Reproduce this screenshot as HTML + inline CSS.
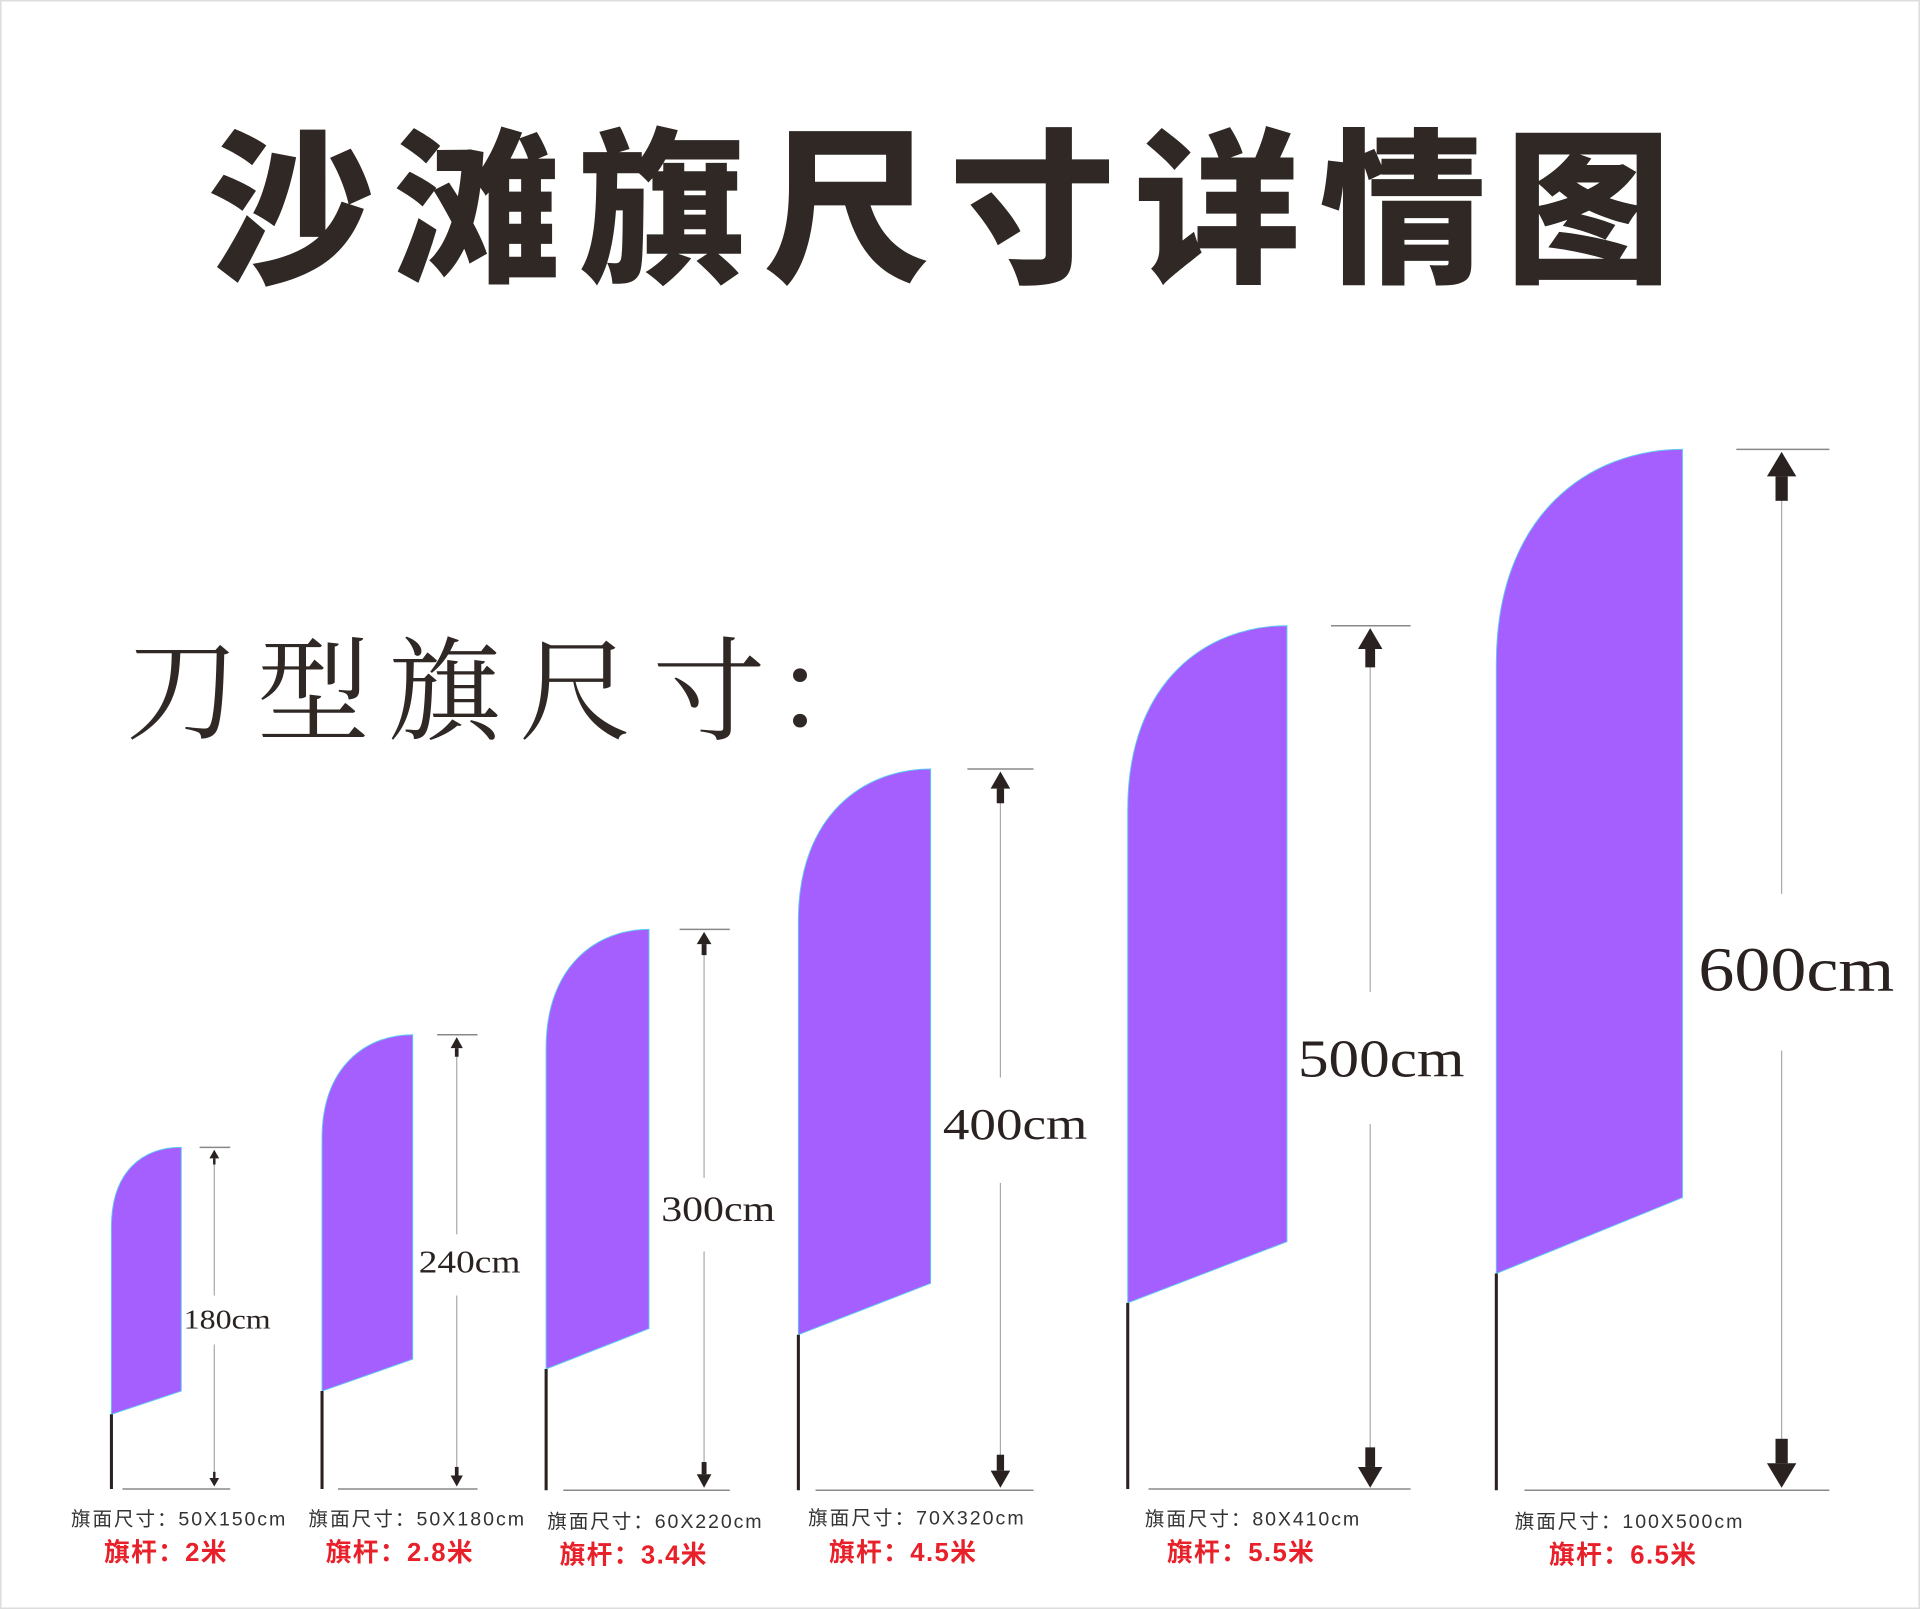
<!DOCTYPE html>
<html><head><meta charset="utf-8"><style>
html,body{margin:0;padding:0;background:#fff;}
svg{display:block;}
</style></head><body>
<svg width="1920" height="1609" viewBox="0 0 1568 1314" preserveAspectRatio="none" xmlns="http://www.w3.org/2000/svg">
<rect x="0" y="0" width="1568" height="1314" fill="#fff"/>
<rect x="0.5" y="0.5" width="1567" height="1313" fill="none" stroke="#ddd" stroke-width="1.5"/>
<text x="170" y="220" textLength="1195" lengthAdjust="spacing" font-family="'Noto Sans CJK SC','WenQuanYi Zen Hei',sans-serif" font-weight="900" font-size="136" fill="#2f2825">沙滩旗尺寸详情图</text>
<text x="103 210 317 424 533 632" y="597" font-family="'Noto Serif CJK SC','Liberation Serif',serif" font-size="92" fill="#2f2825">刀型旗尺寸：</text>
<g fill="#a45ffe" stroke="#5fc8f0" stroke-width="0.8">
<path d="M91,1155 L91,1002 C91,956 117,937 148,937 L148,1136 Z"/>
<path d="M263,1136 L263,930 C263,870 300,845 337,845 L337,1110 Z"/>
<path d="M446,1118 L446,856 C446,788 488,759 530,759 L530,1085 Z"/>
<path d="M652,1090 L652,752 C652,665 706,628 760,628 L760,1048 Z"/>
<path d="M921,1064 L921,661 C921,556 986,511 1051,511 L1051,1014 Z"/>
<path d="M1222,1040 L1222,542 C1222,420 1298,367 1374,367 L1374,978 Z"/>
</g>
<g stroke="#2a2220" stroke-width="2.5">
<line x1="91" y1="1155" x2="91" y2="1216"/>
<line x1="263" y1="1136" x2="263" y2="1216"/>
<line x1="446" y1="1118" x2="446" y2="1217"/>
<line x1="652" y1="1090" x2="652" y2="1217"/>
<line x1="921" y1="1064" x2="921" y2="1216"/>
<line x1="1222" y1="1040" x2="1222" y2="1217"/>
</g>
<g stroke="#888" stroke-width="1.2">
<line x1="163" y1="937" x2="188" y2="937"/><line x1="100" y1="1216" x2="188" y2="1216"/>
<line x1="357" y1="845" x2="390" y2="845"/><line x1="276" y1="1216" x2="390" y2="1216"/>
<line x1="555" y1="759" x2="596" y2="759"/><line x1="460" y1="1217" x2="596" y2="1217"/>
<line x1="790" y1="628" x2="844" y2="628"/><line x1="666" y1="1217" x2="844" y2="1217"/>
<line x1="1087" y1="511" x2="1152" y2="511"/><line x1="938" y1="1216" x2="1152" y2="1216"/>
<line x1="1418" y1="367" x2="1494" y2="367"/><line x1="1245" y1="1217" x2="1494" y2="1217"/>
</g>
<g stroke="#aaa" stroke-width="1">
<line x1="175" y1="940" x2="175" y2="1213"/>
<line x1="373" y1="848" x2="373" y2="1213"/>
<line x1="575" y1="762" x2="575" y2="1214"/>
<line x1="817" y1="631" x2="817" y2="1214"/>
<line x1="1119" y1="514" x2="1119" y2="1213"/>
<line x1="1455" y1="370" x2="1455" y2="1214"/>
</g>
<g fill="#2a2220">
<polygon points="175,939 171,946 179,946"/><rect x="174" y="946" width="2" height="5"/>
<polygon points="175,1214 171,1207 179,1207"/><rect x="174" y="1202" width="2" height="5"/>
<polygon points="373,847 368,856 378,856"/><rect x="371.5" y="856" width="3" height="7"/>
<polygon points="373,1214 368,1205 378,1205"/><rect x="371.5" y="1198" width="3" height="7"/>
<polygon points="575,761 569,771 581,771"/><rect x="573" y="771" width="4" height="9"/>
<polygon points="575,1215 569,1204 581,1204"/><rect x="573" y="1194" width="4" height="10"/>
<polygon points="817,630 809,644 825,644"/><rect x="814" y="644" width="6" height="12"/>
<polygon points="817,1215 809,1201 825,1201"/><rect x="814" y="1188" width="6" height="13"/>
<polygon points="1119,513 1109,530 1129,530"/><rect x="1115" y="530" width="8" height="15"/>
<polygon points="1119,1215 1109,1198 1129,1198"/><rect x="1115" y="1182" width="8" height="16"/>
<polygon points="1455,369 1443,389 1467,389"/><rect x="1450" y="389" width="10" height="20"/>
<polygon points="1455,1215 1443,1195 1467,1195"/><rect x="1450" y="1175" width="10" height="20"/>
</g>
<g fill="#fff">
<rect x="160" y="1058" width="30" height="40"/>
<rect x="350" y="1008" width="50" height="50"/>
<rect x="550" y="962" width="50" height="60"/>
<rect x="790" y="880" width="60" height="86"/>
<rect x="1090" y="810" width="60" height="108"/>
<rect x="1420" y="730" width="70" height="128"/>
</g>
<g font-family="'Liberation Serif',serif" fill="#2a2220">
<text x="150" y="1085" font-size="22" textLength="71" lengthAdjust="spacingAndGlyphs">180cm</text>
<text x="342" y="1039" font-size="26" textLength="83" lengthAdjust="spacingAndGlyphs">240cm</text>
<text x="540" y="997" font-size="29" textLength="93" lengthAdjust="spacingAndGlyphs">300cm</text>
<text x="770" y="930" font-size="36" textLength="118" lengthAdjust="spacingAndGlyphs">400cm</text>
<text x="1060" y="879" font-size="43" textLength="136" lengthAdjust="spacingAndGlyphs">500cm</text>
<text x="1387" y="809" font-size="51" textLength="160" lengthAdjust="spacingAndGlyphs">600cm</text>
</g>
<g font-family="'Liberation Sans','Noto Sans CJK SC',sans-serif" font-size="16" fill="#333">
<text x="58" y="1246" textLength="175" lengthAdjust="spacing">旗面尺寸：50X150cm</text>
<text x="252" y="1246" textLength="176" lengthAdjust="spacing">旗面尺寸：50X180cm</text>
<text x="447" y="1248" textLength="175" lengthAdjust="spacing">旗面尺寸：60X220cm</text>
<text x="660" y="1245" textLength="176" lengthAdjust="spacing">旗面尺寸：70X320cm</text>
<text x="935" y="1246" textLength="175" lengthAdjust="spacing">旗面尺寸：80X410cm</text>
<text x="1237" y="1248" textLength="186" lengthAdjust="spacing">旗面尺寸：100X500cm</text>
</g>
<g font-family="'Liberation Sans','Noto Sans CJK SC',sans-serif" font-size="21" font-weight="bold" fill="#e8202a">
<text x="85" y="1275" textLength="100" lengthAdjust="spacing">旗杆：2米</text>
<text x="266" y="1275" textLength="120" lengthAdjust="spacing">旗杆：2.8米</text>
<text x="457" y="1277" textLength="120" lengthAdjust="spacing">旗杆：3.4米</text>
<text x="677" y="1275" textLength="120" lengthAdjust="spacing">旗杆：4.5米</text>
<text x="953" y="1275" textLength="120" lengthAdjust="spacing">旗杆：5.5米</text>
<text x="1265" y="1277" textLength="120" lengthAdjust="spacing">旗杆：6.5米</text>
</g>
</svg>
</body></html>
